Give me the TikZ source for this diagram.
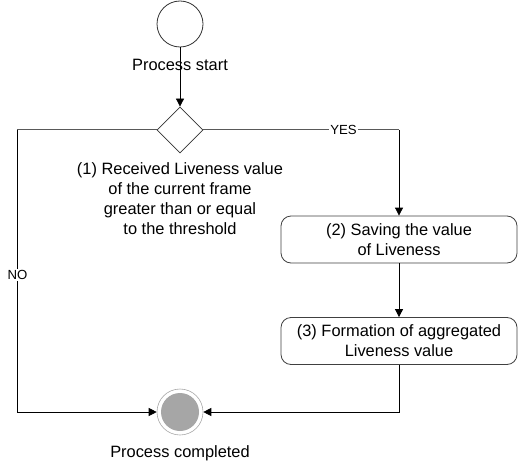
\documentclass[tikz,border=0pt]{standalone}
\usepackage{fontspec}
\setmainfont{Liberation Sans}
\usetikzlibrary{arrows.meta,shapes.geometric}
\begin{document}
\begin{tikzpicture}[x=1pt,y=-1pt,
  every node/.style={font=\fontsize{16.4}{20}\selectfont, inner sep=0pt},
  lbl/.style={align=center},
  edgelbl/.style={fill=white, inner sep=1pt, font=\fontsize{13.2}{16}\selectfont},
  flow/.style={draw=black, line width=0.8pt, -{Triangle[length=8pt,width=8pt]}},
  plain/.style={draw=black!65, line width=1pt},
  actbox/.style={draw=black!75, line width=0.8pt, rounded corners=10pt, minimum width=236pt, minimum height=47pt, align=center, fill=white}]
\useasboundingbox (0,0) rectangle (518,473);
\node[circle, draw=black!80, line width=0.8pt, minimum size=46pt] (start) at (180,24) {};
\node[diamond, draw=black!80, line width=0.8pt, minimum width=46pt, minimum height=46pt] (dec) at (180,130) {};
\node[lbl] (declbl) at (180,199) {(1) Received Liveness value\\of the current frame\\greater than or equal\\to the threshold};
\node[actbox] (save) at (399,239.5) {(2) Saving the value\\of Liveness};
\node[actbox] (form) at (399,341) {(3) Formation of aggregated\\Liveness value};
\node[circle, draw=black!35, line width=0.6pt, minimum size=46pt] (end) at (180,412) {};
\node[circle, fill=black!35, minimum size=38pt] (endin) at (180,412) {};
\node[lbl] (endlbl) at (180,453) {Process completed};
\coordinate (nl) at (17,130);
\coordinate (nb) at (17,412);
\coordinate (yr) at (399,130);
\coordinate (fb) at (399,412);
\draw[flow] (start.south) -- (dec.north);
\node[lbl] (startlbl) at (180,65) {Process start};
\draw[plain] (dec.west) -- (nl);
\draw[flow] (nl) -- (nb) -- (end.west);
\node[edgelbl] (nolbl) at (17.5,275) {NO};
\draw[plain] (dec.east) -- (yr);
\draw[flow] (yr) -- (save.north);
\node[edgelbl] (yeslbl) at (343.5,130) {YES};
\draw[flow] (save.south) -- (form.north);
\draw[flow] (form.south) -- (fb) -- (end.east);
\end{tikzpicture}
\end{document}
